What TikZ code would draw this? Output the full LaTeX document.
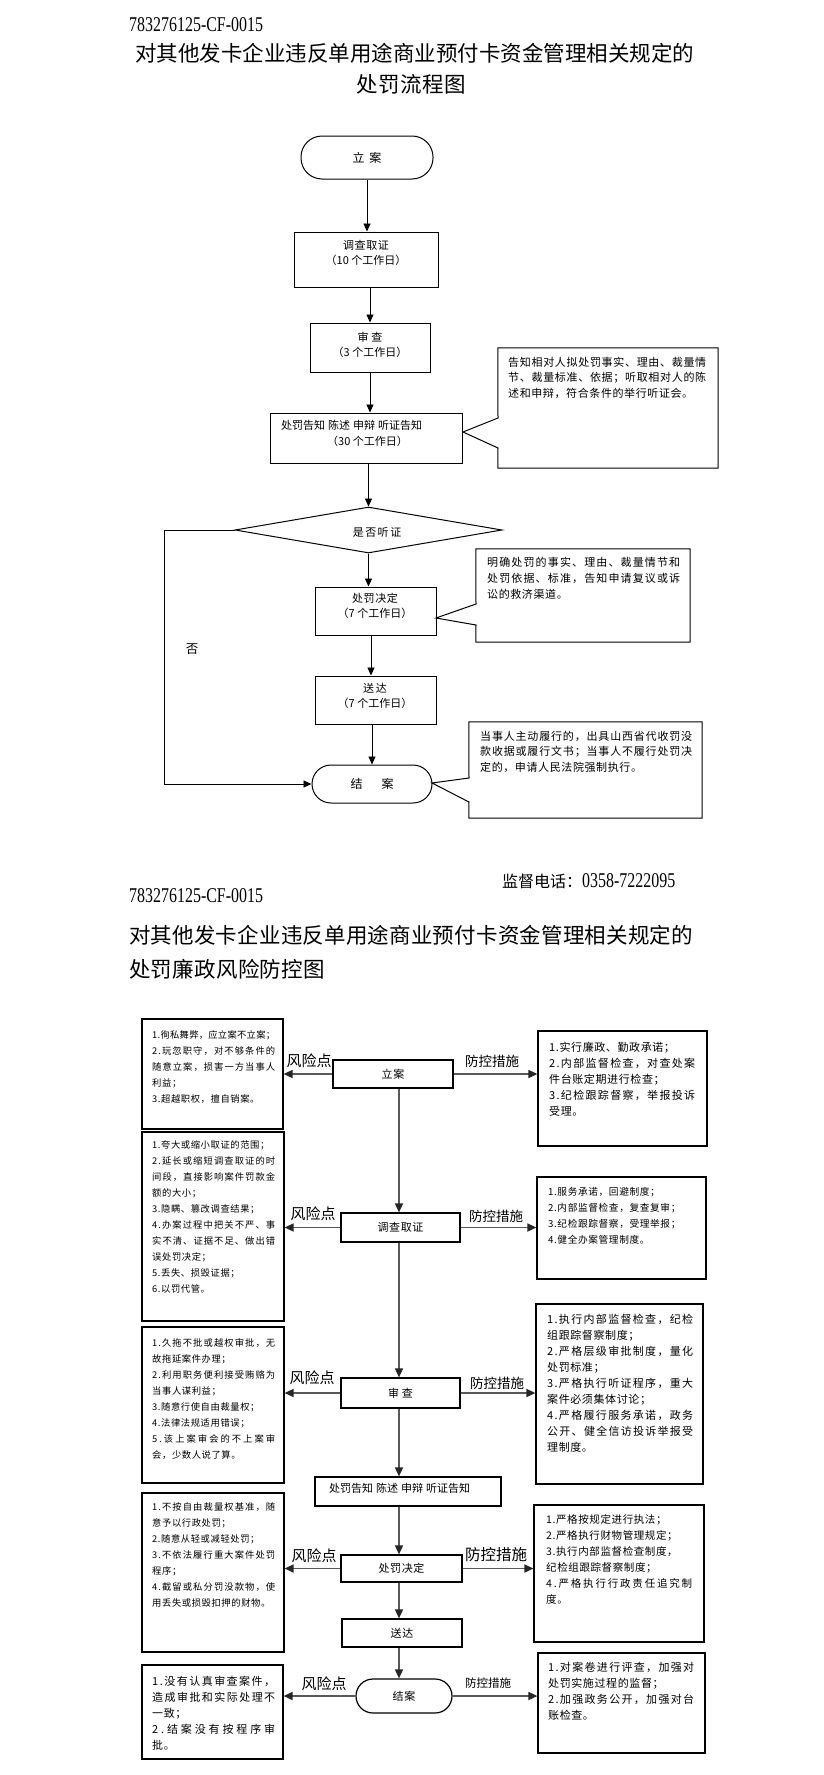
\documentclass[tikz,border=0pt]{standalone}
\usepackage{fontspec}
\setmainfont{Noto Sans CJK SC}
\newfontfamily\idfont[FakeStretch=0.76]{Liberation Serif}
\usetikzlibrary{arrows.meta,calc,shapes.geometric}
\newdimen\trk \trk=0.6pt
\makeatletter
\def\chspread#1{\chspread@#1\relax}
\def\chspread@#1{\ifx\relax#1\else#1\hskip\trk plus 1fil minus\trk\relax\expandafter\chspread@\fi}
\makeatother
\newcommand\justl[2]{\makebox[#1pt][s]{\chspread{#2}\unskip}}
\newcommand\natl[1]{\mbox{\chspread{#1}\unskip}}
\tikzset{
  tb/.style={draw, line width=1pt, rectangle, inner sep=0pt},
  tstad/.style={draw, line width=1pt, rectangle, rounded corners=19pt, inner sep=0pt},
  bb/.style={draw, line width=1.2pt, rectangle, inner sep=0pt, font=\fontsize{11}{14}\selectfont},
  tarr/.style={-{Triangle[length=8pt,width=7pt]}, line width=0.9pt},
  garr/.style={-{Triangle[length=9pt,width=8pt,color=black!85]}, line width=1.6pt, draw=black!65},
  tt/.style={inner sep=0pt, align=center, font=\fontsize{11}{15.5}\selectfont},
  ctxt/.style={inner sep=0pt, anchor=north west, align=left},
  btxt/.style={inner sep=0pt, anchor=north west, align=left},
  risk/.style={inner sep=0pt, font=\fontsize{15}{18}\selectfont},
  ctrl/.style={inner sep=0pt},
  ttl/.style={inner sep=0pt, font=\fontsize{21.5}{26}\selectfont},
}
\begin{document}
\begin{tikzpicture}[x=1pt,y=-1pt]
\fill[white] (0,0) rectangle (823,1775);
\useasboundingbox (0,0) rectangle (823,1775);

% ================= TOP: flowchart =================
\node[inner sep=0pt, anchor=west, font=\idfont\fontsize{21}{24}\selectfont] (id1) at (129,24.5) {783276125-CF-0015};
\node[ttl, anchor=west] (t1a) at (135,53) {\justl{554}{对其他发卡企业违反单用途商业预付卡资金管理相关规定的}};
\node[ttl] (t1b) at (411,84) {\trk=0.5pt\natl{处罚流程图}};

\node[tstad, rounded corners=21pt, minimum width=132pt, minimum height=43pt, font=\fontsize{12}{14}\selectfont] (start1) at (367,157.5) {立\hspace{5pt}案};

\node[tb, minimum width=144pt, minimum height=55pt] (inv1) at (366,259.5) {};
\node[tt, anchor=north] (inv1t) at (366,239.9) {\natl{调查取证}\\（10 个工作日）};

\node[tb, minimum width=120pt, minimum height=49pt] (rev1) at (370,347.5) {};
\node[tt, anchor=north] (rev1t) at (370,331.9) {\trk=3pt\natl{审查}\\（3 个工作日）};

\node[tb, minimum width=192pt, minimum height=50pt] (not1) at (366,438) {};
\node[tt, anchor=north west, align=left, font=\fontsize{11}{16}\selectfont] (not1t) at (281,419.9) {处罚告知\hspace{3pt}陈述\hspace{3pt}申辩\hspace{3pt}听证告知\\\hspace*{46pt}（30 个工作日）};

\node[minimum width=220pt, minimum height=120pt, inner sep=0pt] (c1) at (608,408) {};
\coordinate (c1tip) at (463,432);
\draw[line width=1pt] (c1.north west) -- (c1.north east) -- (c1.south east) -- (c1.south west) -- (498,448) -- (c1tip) -- (498,418) -- cycle;
\node[ctxt, font=\fontsize{11}{15.5}\selectfont] (c1t) at (508,356.9) {\justl{198}{告知相对人拟处罚事实、理由、裁量情}\\\justl{198}{节、裁量标准、依据；听取相对人的陈}\\\natl{述和申辩，符合条件的举行听证会。}};

\node[diamond, draw, line width=1pt, minimum width=267pt, minimum height=46pt, inner sep=0pt] (dia) at (368.5,530) {};
\node[tt] (diat) at (377,532) {\trk=1.5pt\natl{是否听证}};

\node[tb, minimum width=121pt, minimum height=48pt] (dec1) at (375.5,611) {};
\node[tt, anchor=north] (dec1t) at (375,592.9) {\natl{处罚决定}\\（7 个工作日）};

\node[minimum width=214pt, minimum height=93pt, inner sep=0pt] (c2) at (583,595.5) {};
\coordinate (c2tip) at (436,618);
\draw[line width=1pt] (c2.north west) -- (c2.north east) -- (c2.south east) -- (c2.south west) -- (476,625) -- (c2tip) -- (476,604) -- cycle;
\node[ctxt, font=\fontsize{11}{16}\selectfont] (c2t) at (487,556.9) {\justl{193}{明确处罚的事实、理由、裁量情节和}\\\justl{193}{处罚依据、标准，告知申请复议或诉}\\\natl{讼的救济渠道。}};

\node[tb, minimum width=121pt, minimum height=48pt] (del1) at (375.5,700) {};
\node[tt, anchor=north] (del1t) at (375,682.9) {\trk=2pt\natl{送达}\\（7 个工作日）};

\node[tstad, minimum width=120pt, minimum height=38pt, font=\fontsize{12}{14}\selectfont] (end1) at (372,784) {结\hspace{19pt}案};

\node[minimum width=233pt, minimum height=96pt, inner sep=0pt] (c3) at (585.5,770) {};
\coordinate (c3tip) at (432,783);
\draw[line width=1pt] (c3.north west) -- (c3.north east) -- (c3.south east) -- (c3.south west) -- (469,802) -- (c3tip) -- (469,778) -- cycle;
\node[ctxt, font=\fontsize{11}{15.5}\selectfont] (c3t) at (480,730.9) {\justl{212}{当事人主动履行的，出具山西省代收罚没}\\\justl{212}{款收据或履行文书；当事人不履行处罚决}\\\natl{定的，申请人民法院强制执行。}};

\node[inner sep=0pt, font=\fontsize{12.5}{14}\selectfont] (no1) at (192,649) {否};
\coordinate (lp) at (164,784);

\draw[tarr] (start1.south) -- (start1.south |- inv1.north);
\draw[tarr] (rev1.north |- inv1.south) -- (rev1.north);
\draw[tarr] (rev1.south) -- (rev1.south |- not1.north);
\draw[tarr] (dia.north |- not1.south) -- (dia.north);
\draw[tarr] (dia.south) -- (dia.south |- dec1.north);
\draw[tarr] ($(dec1.south)+(-4.5,0)$) -- ($(del1.north)+(-4.5,0)$);
\draw[tarr] (end1.north |- del1.south) -- (end1.north);
\draw[tarr] (dia.west) -| (lp) -- (end1.west);

% ================= BOTTOM: risk control chart =================
\node[inner sep=0pt, anchor=west] (tel) at (502,881) {\fontsize{16}{18}\selectfont 监督电话：{\idfont\fontsize{21}{24}\selectfont 0358-7222095}};
\node[inner sep=0pt, anchor=west, font=\idfont\fontsize{21}{24}\selectfont] (id2) at (129,896) {783276125-CF-0015};
\node[ttl, anchor=west] (t2a) at (129,935) {\justl{564}{对其他发卡企业违反单用途商业预付卡资金管理相关规定的}};
\node[ttl, anchor=west] (t2b) at (129,969) {\trk=0.3pt\natl{处罚廉政风险防控图}};

% centre column
\node[bb, minimum width=120pt, minimum height=28pt] (s2) at (393,1074) {\trk=1pt\natl{立案}};
\node[bb, minimum width=119pt, minimum height=29pt] (i2) at (400.5,1227.5) {\natl{调查取证}};
\node[bb, minimum width=119pt, minimum height=30pt] (r2) at (400.5,1393) {\trk=3pt\natl{审查}};
\node[bb, minimum width=186pt, minimum height=29pt] (n2) at (408,1491.5) {};
\node[inner sep=0pt, anchor=west, font=\fontsize{11}{14}\selectfont] (n2t) at (329,1488) {处罚告知\hspace{3pt}陈述\hspace{3pt}申辩\hspace{3pt}听证告知};
\node[bb, minimum width=121pt, minimum height=27pt] (d2) at (401.5,1568.5) {\natl{处罚决定}};
\node[bb, minimum width=120pt, minimum height=28pt] (v2) at (402,1633) {\trk=1pt\natl{送达}};
\node[bb, rounded corners=17pt, minimum width=96pt, minimum height=34pt] (e2) at (404,1696) {\trk=1pt\natl{结案}};

% left risk boxes
\node[bb, minimum width=141pt, minimum height=110pt] (L1) at (212.5,1074) {};
\node[btxt, font=\fontsize{9.3}{16}\selectfont] (L1t) at (152,1030.7) {\justl{123}{1.徇私舞弊，应立案不立案；}\\\justl{123}{2.玩忽职守，对不够条件的}\\\justl{123}{随意立案，损害一方当事人}\\\natl{利益；}\\\natl{3.超越职权，擅自销案。}};

\node[bb, minimum width=142pt, minimum height=189pt] (L2) at (213,1226.5) {};
\node[btxt, font=\fontsize{9.3}{16}\selectfont] (L2t) at (152,1140.7) {\natl{1.夸大或缩小取证的范围；}\\\justl{123}{2.延长或缩短调查取证的时}\\\justl{123}{间段，直接影响案件罚款金}\\\natl{额的大小；}\\\natl{3.隐瞒、篡改调查结果；}\\\justl{123}{4.办案过程中把关不严、事}\\\justl{123}{实不清、证据不足、做出错}\\\natl{误处罚决定；}\\\natl{5.丢失、损毁证据；}\\\natl{6.以罚代管。}};

\node[bb, minimum width=142pt, minimum height=156pt] (L3) at (213,1405) {};
\node[btxt, font=\fontsize{9.3}{16}\selectfont] (L3t) at (152,1338.7) {\justl{123}{1.久拖不批或越权审批，无}\\\natl{故拖延案件办理；}\\\justl{123}{2.利用职务便利接受贿赂为}\\\natl{当事人谋利益；}\\\natl{3.随意行使自由裁量权；}\\\natl{4.法律法规适用错误；}\\\justl{123}{5.该上案审会的不上案审}\\\natl{会，少数人说了算。}};

\node[bb, minimum width=142pt, minimum height=159pt] (L4) at (213,1572.5) {};
\node[btxt, font=\fontsize{9.3}{16}\selectfont] (L4t) at (152,1502.7) {\justl{123}{1.不按自由裁量权基准，随}\\\natl{意予以行政处罚；}\\\natl{2.随意从轻或减轻处罚；}\\\justl{123}{3.不依法履行重大案件处罚}\\\natl{程序；}\\\justl{123}{4.截留或私分罚没款物，使}\\\natl{用丢失或损毁扣押的财物。}};

\node[bb, minimum width=141pt, minimum height=94pt] (L5) at (212.5,1712) {};
\node[btxt, font=\fontsize{11}{16}\selectfont] (L5t) at (152,1675.9) {\justl{123}{1.没有认真审查案件，}\\\justl{123}{造成审批和实际处理不}\\\natl{一致；}\\\justl{123}{2.结案没有按程序审}\\\natl{批。}};

% right control boxes
\node[bb, minimum width=169pt, minimum height=115pt] (R1) at (622.5,1088.5) {};
\node[btxt, font=\fontsize{11}{16}\selectfont] (R1t) at (549,1041.9) {\natl{1.实行廉政、勤政承诺；}\\\justl{146}{2.内部监督检查，对查处案}\\\natl{件台账定期进行检查；}\\\justl{146}{3.纪检跟踪督察，举报投诉}\\\natl{受理。}};

\node[bb, minimum width=169pt, minimum height=102pt] (R2) at (621.5,1228) {};
\node[btxt, font=\fontsize{9.7}{16}\selectfont] (R2t) at (548,1187.5) {\natl{1.服务承诺，回避制度；}\\\natl{2.内部监督检查，复查复审；}\\\natl{3.纪检跟踪督察，受理举报；}\\\natl{4.健全办案管理制度。}};

\node[bb, minimum width=167pt, minimum height=180pt] (R3) at (619.5,1394) {};
\node[btxt, font=\fontsize{11}{16}\selectfont] (R3t) at (547,1314) {\justl{146}{1.执行内部监督检查，纪检}\\\natl{组跟踪督察制度；}\\\justl{146}{2.严格层级审批制度，量化}\\\natl{处罚标准；}\\\justl{146}{3.严格执行听证程序，重大}\\\natl{案件必须集体讨论；}\\\justl{146}{4.严格履行服务承诺，政务}\\\justl{146}{公开、健全信访投诉举报受}\\\natl{理制度。}};

\node[bb, minimum width=170pt, minimum height=137pt] (R4) at (619,1573.5) {};
\node[btxt, font=\fontsize{10.5}{16}\selectfont] (R4t) at (546,1514.2) {\natl{1.严格按规定进行执法；}\\\natl{2.严格执行财物管理规定；}\\\natl{3.执行内部监督检查制度，}\\\natl{纪检组跟踪督察制度；}\\\justl{146}{4.严格执行行政责任追究制}\\\natl{度。}};

\node[bb, minimum width=167pt, minimum height=100pt] (R5) at (621.5,1703) {};
\node[btxt, font=\fontsize{11}{16}\selectfont] (R5t) at (548,1662) {\justl{146}{1.对案卷进行评查，加强对}\\\natl{处罚实施过程的监督；}\\\justl{146}{2.加强政务公开，加强对台}\\\natl{账检查。}};

% labels
\node[risk] (k1) at (309,1061) {风险点};
\node[risk] (k2) at (313,1214) {风险点};
\node[risk] (k3) at (312,1378) {风险点};
\node[risk] (k4) at (314,1556) {风险点};
\node[risk] (k5) at (324,1684) {风险点};
\node[ctrl, font=\fontsize{13.5}{16}\selectfont] (m1) at (492,1061) {防控措施};
\node[ctrl, font=\fontsize{13.5}{16}\selectfont] (m2) at (496,1216) {防控措施};
\node[ctrl, font=\fontsize{13.5}{16}\selectfont] (m3) at (497,1383) {防控措施};
\node[ctrl, font=\fontsize{15.5}{18}\selectfont] (m4) at (496,1555) {防控措施};
\node[ctrl, font=\fontsize{11.5}{14}\selectfont] (m5) at (488,1683) {防控措施};

% vertical connectors
\coordinate (ax) at (399,0);
\draw[garr] (s2.south -| ax) -- (i2.north -| ax);
\draw[garr] (i2.south -| ax) -- (r2.north -| ax);
\draw[garr] (r2.south -| ax) -- (n2.north -| ax);
\draw[garr] (n2.south -| ax) -- (d2.north -| ax);
\draw[garr] (d2.south -| ax) -- (v2.north -| ax);
\draw[garr] (v2.south -| ax) -- (e2.north -| ax);

% horizontal connectors
\draw[garr] (s2.west) -- (s2.west -| L1.east);
\draw[garr] (s2.east) -- (s2.east -| R1.west);
\draw[garr] (i2.west) -- (i2.west -| L2.east);
\draw[garr] (i2.east) -- (i2.east -| R2.west);
\draw[garr] (r2.west) -- (r2.west -| L3.east);
\draw[garr] (r2.east) -- (r2.east -| R3.west);
\draw[garr] (d2.west) -- (d2.west -| L4.east);
\draw[garr] (d2.east) -- (d2.east -| R4.west);
\draw[garr] (e2.west) -- (e2.west -| L5.east);
\draw[garr] (e2.east) -- (e2.east -| R5.west);
\end{tikzpicture}
\end{document}
